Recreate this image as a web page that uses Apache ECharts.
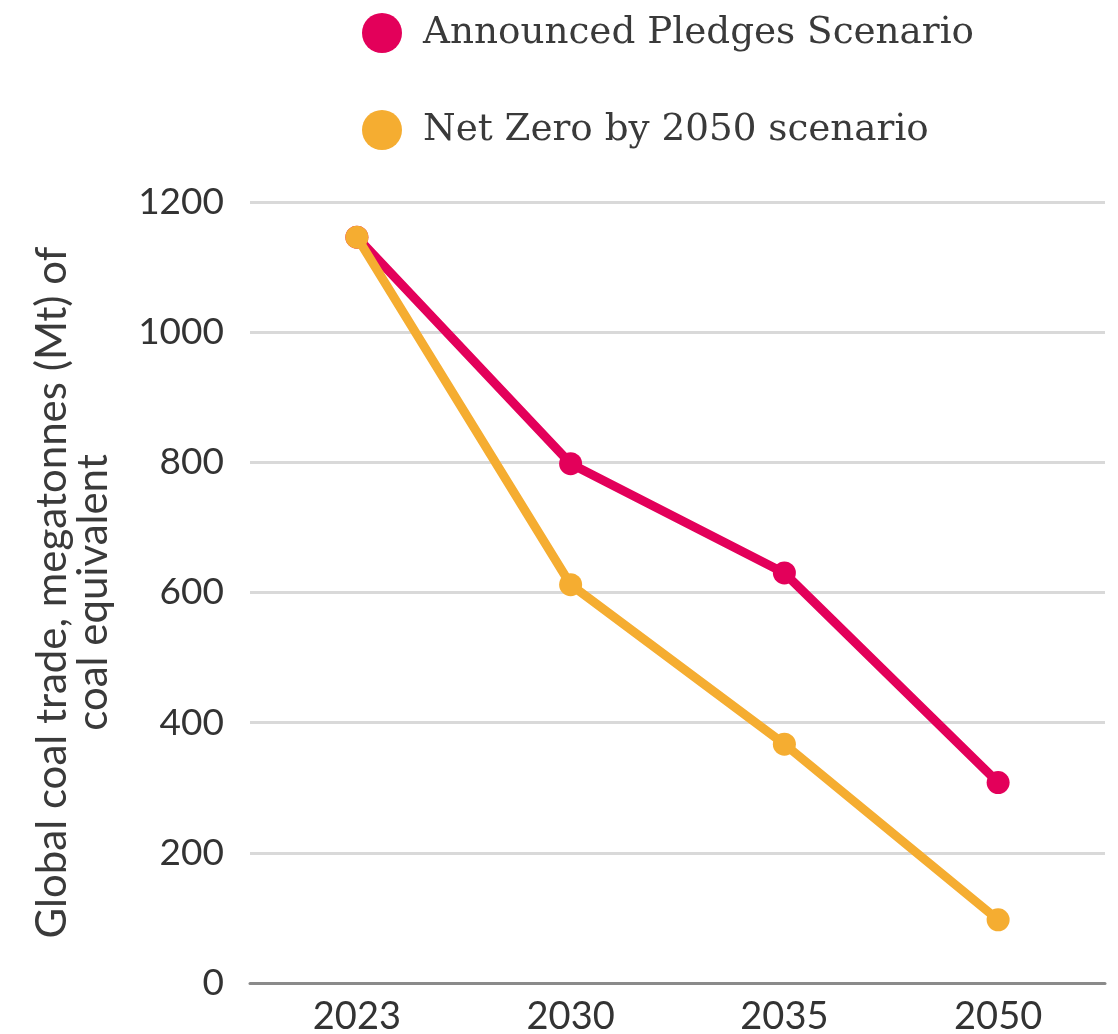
<!DOCTYPE html>
<html><head><meta charset="utf-8">
<script src="https://cdn.jsdelivr.net/npm/echarts@6/dist/echarts.min.js"></script>
<style>html,body{margin:0;padding:0;background:#fff}#c{width:1118px;height:1034px}</style>
</head><body><div id="c"></div>
<script>
const categories = ["2023", "2030", "2035", "2050"];
const apsValues = [1146, 798, 630, 308];
const nzeValues = [1146, 612, 367, 97];
const yTicks = [0, 200, 400, 600, 800, 1000, 1200];
const seriesNames = ["Announced Pledges Scenario", "Net Zero by 2050 scenario"];
const yAxisTitle = "Global coal trade, megatonnes (Mt) of\ncoal equivalent";

const chart = echarts.init(document.getElementById('c'), null, {renderer: 'canvas'});
const colors = ['#E3005A', '#F5AD31'];
chart.setOption({
  animation: false,
  backgroundColor: '#fff',
  color: colors,
  legend: {
    orient: 'vertical',
    left: 357, top: 8,
    icon: 'circle',
    itemWidth: 40, itemHeight: 40,
    itemGap: 57,
    textStyle: {fontFamily: 'DejaVu Serif', fontSize: 37.3, color: '#3a3a3a', padding: [0, 0, 0, 16]},
    data: seriesNames
  },
  grid: {left: 250, right: 13, top: 202, bottom: 51, containLabel: false, outerBoundsMode: 'none'},
  xAxis: {
    type: 'category', data: categories, boundaryGap: true,
    axisLine: {lineStyle: {color: '#8a8a8a', width: 3}},
    axisTick: {show: false},
    axisLabel: {fontFamily: 'Lato', fontSize: 38, color: '#333', margin: 15}
  },
  yAxis: {
    type: 'value', min: yTicks[0], max: yTicks[yTicks.length - 1], interval: 200,
    name: yAxisTitle, nameLocation: 'middle', nameGap: 136,
    nameTextStyle: {fontFamily: 'Lato', fontSize: 42, color: '#3a3a3a', lineHeight: 41, align: 'center'},
    axisLine: {show: false}, axisTick: {show: false},
    axisLabel: {fontFamily: 'Lato', fontSize: 37, color: '#333', margin: 26, formatter: v => String(v)},
    splitLine: {lineStyle: {color: '#d9d9d9', width: 3}}
  },
  series: [
    {name: seriesNames[0], type: 'line', data: apsValues, symbol: 'circle', symbolSize: 23,
     lineStyle: {width: 9, color: colors[0]}, itemStyle: {color: colors[0]}, z: 2},
    {name: seriesNames[1], type: 'line', data: nzeValues, symbol: 'circle', symbolSize: 23,
     lineStyle: {width: 9, color: colors[1]}, itemStyle: {color: colors[1]}, z: 3}
  ]
});
</script></body></html>
